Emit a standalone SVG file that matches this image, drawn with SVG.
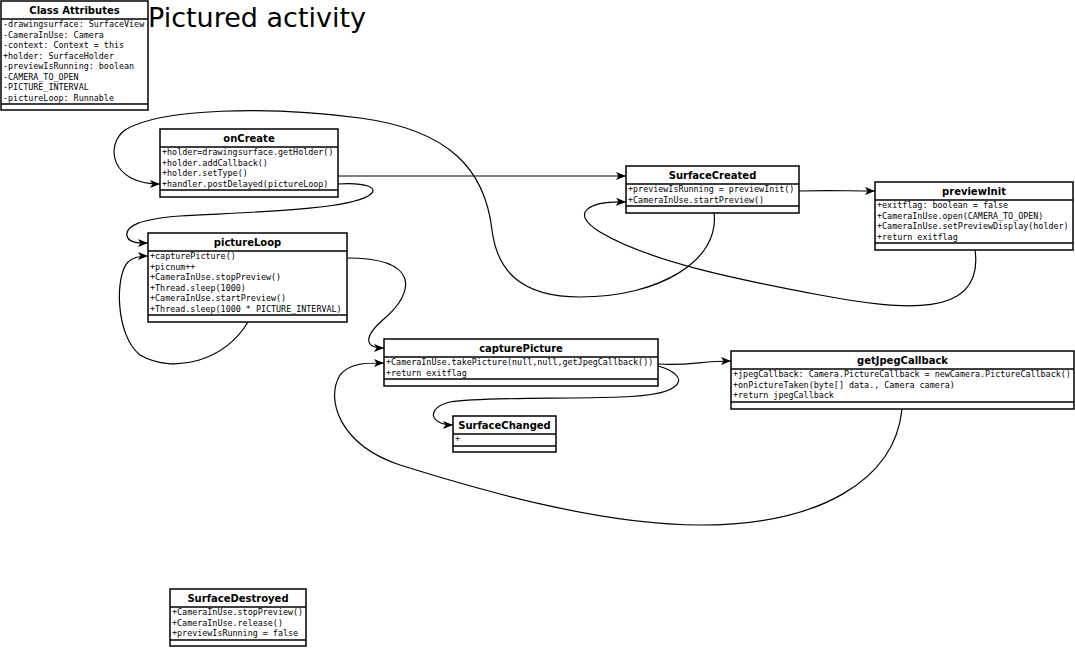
<svg xmlns="http://www.w3.org/2000/svg" width="1075" height="648" viewBox="0 0 1075 648">
<style>
.box{fill:#fff;stroke:#000;stroke-width:1.5}
.ln{stroke:#000;stroke-width:1.5}
.hd{font-family:"DejaVu Sans",sans-serif;font-weight:bold;font-size:10px;text-anchor:middle;fill:#000}
.row{font-family:"DejaVu Sans Mono",monospace;font-size:8.4px;fill:#000}
.conn{fill:none;stroke:#000;stroke-width:1.2}
.title{font-family:"DejaVu Sans",sans-serif;font-size:27px;fill:#000}
</style>
<defs>
<marker id="arr" markerUnits="userSpaceOnUse" markerWidth="12" markerHeight="10" refX="10" refY="4" orient="auto" viewBox="0 0 12 10">
<path d="M0,0 L10,4 L0,8 L2.5,4 z" fill="#000"/>
</marker>
</defs>
<rect width="1075" height="648" fill="#fff"/>
<text class="title" x="148" y="27">Pictured activity</text>

<g id="connectors">
<path class="conn" d="M338,176 L626,176" marker-end="url(#arr)"/>
<path class="conn" d="M338,184 C365,182 382,188 368,196 C345,210 250,212 180,216 C140,219 125,226 127,236 C129,243 138,243 148,243" marker-end="url(#arr)"/>
<path class="conn" d="M714,213 C720,260 660,297 580,297 C520,297 497,270 492,230 C485,170 450,130 360,118 C270,106 160,108 125,130 C105,145 110,184 160,184" marker-end="url(#arr)"/>
<path class="conn" d="M799,191 C830,190 845,191 875,191" marker-end="url(#arr)"/>
<path class="conn" d="M975,250 C985,320 900,310 820,295 C740,280 650,262 600,232 C568,212 590,201 626,202" marker-end="url(#arr)"/>
<path class="conn" d="M347,258 C420,258 415,292 385,318 C365,335 362,348 384,348" marker-end="url(#arr)"/>
<path class="conn" d="M248,322 C225,360 175,375 140,355 C115,335 115,275 128,262 C133,257 140,256 148,256" marker-end="url(#arr)"/>
<path class="conn" d="M658,364 C690,366 700,361 731,361" marker-end="url(#arr)"/>
<path class="conn" d="M658,366 C690,375 690,395 620,397 C560,399 480,397 450,402 C425,408 430,425 453,425" marker-end="url(#arr)"/>
<path class="conn" d="M902,409 C895,480 820,525 700,525 C600,525 480,490 400,465 C340,445 325,400 340,375 C350,363 365,363 384,363" marker-end="url(#arr)"/>
</g>

<g id="classAttributes">
<rect class="box" x="1" y="1" width="147" height="109"/>
<line class="ln" x1="1" y1="19" x2="148" y2="19"/>
<line class="ln" x1="1" y1="104" x2="148" y2="104"/>
<text class="hd" x="74.5" y="14">Class Attributes</text>
<text class="row" x="3" y="27">-drawingsurface: SurfaceView</text>
<text class="row" x="3" y="37.5">-CameraInUse: Camera</text>
<text class="row" x="3" y="48">-context: Context = this</text>
<text class="row" x="3" y="58.5">+holder: SurfaceHolder</text>
<text class="row" x="3" y="69">-previewIsRunning: boolean</text>
<text class="row" x="3" y="79.5">-CAMERA_TO_OPEN</text>
<text class="row" x="3" y="90">-PICTURE_INTERVAL</text>
<text class="row" x="3" y="100.5">-pictureLoop: Runnable</text>
</g>

<g id="onCreate">
<rect class="box" x="160" y="129" width="178" height="68"/>
<line class="ln" x1="160" y1="147" x2="338" y2="147"/>
<line class="ln" x1="160" y1="190" x2="338" y2="190"/>
<text class="hd" x="249" y="142">onCreate</text>
<text class="row" x="162" y="155">+holder=drawingsurface.getHolder()</text>
<text class="row" x="162" y="165.5">+holder.addCallback()</text>
<text class="row" x="162" y="176">+holder.setType()</text>
<text class="row" x="162" y="186.5">+handler.postDelayed(pictureLoop)</text>
</g>

<g id="surfaceCreated">
<rect class="box" x="626" y="166" width="173" height="47"/>
<line class="ln" x1="626" y1="184" x2="799" y2="184"/>
<line class="ln" x1="626" y1="206" x2="799" y2="206"/>
<text class="hd" x="712.5" y="179">SurfaceCreated</text>
<text class="row" x="628" y="192">+previewIsRunning = previewInit()</text>
<text class="row" x="628" y="202.5">+CameraInUse.startPreview()</text>
</g>

<g id="previewInit">
<rect class="box" x="875" y="182" width="198" height="68"/>
<line class="ln" x1="875" y1="200" x2="1073" y2="200"/>
<line class="ln" x1="875" y1="243" x2="1073" y2="243"/>
<text class="hd" x="974" y="195">previewInit</text>
<text class="row" x="877" y="208">+exitflag: boolean = false</text>
<text class="row" x="877" y="218.5">+CameraInUse.open(CAMERA_TO_OPEN)</text>
<text class="row" x="877" y="229">+CameraInUse.setPreviewDisplay(holder)</text>
<text class="row" x="877" y="239.5">+return exitflag</text>
</g>

<g id="pictureLoop">
<rect class="box" x="148" y="233" width="199" height="89"/>
<line class="ln" x1="148" y1="251" x2="347" y2="251"/>
<line class="ln" x1="148" y1="315" x2="347" y2="315"/>
<text class="hd" x="247.5" y="246">pictureLoop</text>
<text class="row" x="150" y="259">+capturePicture()</text>
<text class="row" x="150" y="269.5">+picnum++</text>
<text class="row" x="150" y="280">+CameraInUse.stopPreview()</text>
<text class="row" x="150" y="290.5">+Thread.sleep(1000)</text>
<text class="row" x="150" y="301">+CameraInUse.startPreview()</text>
<text class="row" x="150" y="311.5">+Thread.sleep(1000 * PICTURE_INTERVAL)</text>
</g>

<g id="capturePicture">
<rect class="box" x="384" y="339" width="274" height="47"/>
<line class="ln" x1="384" y1="357" x2="658" y2="357"/>
<line class="ln" x1="384" y1="379" x2="658" y2="379"/>
<text class="hd" x="521" y="352">capturePicture</text>
<text class="row" x="386" y="365">+CameraInUse.takePicture(null,null,getJpegCallback())</text>
<text class="row" x="386" y="375.5">+return exitflag</text>
</g>

<g id="getJpegCallback">
<rect class="box" x="731" y="351" width="343" height="58"/>
<line class="ln" x1="731" y1="369" x2="1074" y2="369"/>
<line class="ln" x1="731" y1="402" x2="1074" y2="402"/>
<text class="hd" x="902.5" y="364">getJpegCallback</text>
<text class="row" x="733" y="377">+jpegCallback: Camera.PictureCallback = newCamera.PictureCallback()</text>
<text class="row" x="733" y="387.5">+onPictureTaken(byte[] data., Camera camera)</text>
<text class="row" x="733" y="398">+return jpegCallback</text>
</g>

<g id="surfaceChanged">
<rect class="box" x="453" y="416" width="103" height="36"/>
<line class="ln" x1="453" y1="434" x2="556" y2="434"/>
<line class="ln" x1="453" y1="446" x2="556" y2="446"/>
<text class="hd" x="504.5" y="429">SurfaceChanged</text>
<text class="row" x="455" y="442">+</text>
</g>

<g id="surfaceDestroyed">
<rect class="box" x="170" y="589" width="136" height="57"/>
<line class="ln" x1="170" y1="607" x2="306" y2="607"/>
<line class="ln" x1="170" y1="640" x2="306" y2="640"/>
<text class="hd" x="238" y="602">SurfaceDestroyed</text>
<text class="row" x="172" y="615">+CameraInUse.stopPreview()</text>
<text class="row" x="172" y="625.5">+CameraInUse.release()</text>
<text class="row" x="172" y="636">+previewIsRunning = false</text>
</g>
</svg>
